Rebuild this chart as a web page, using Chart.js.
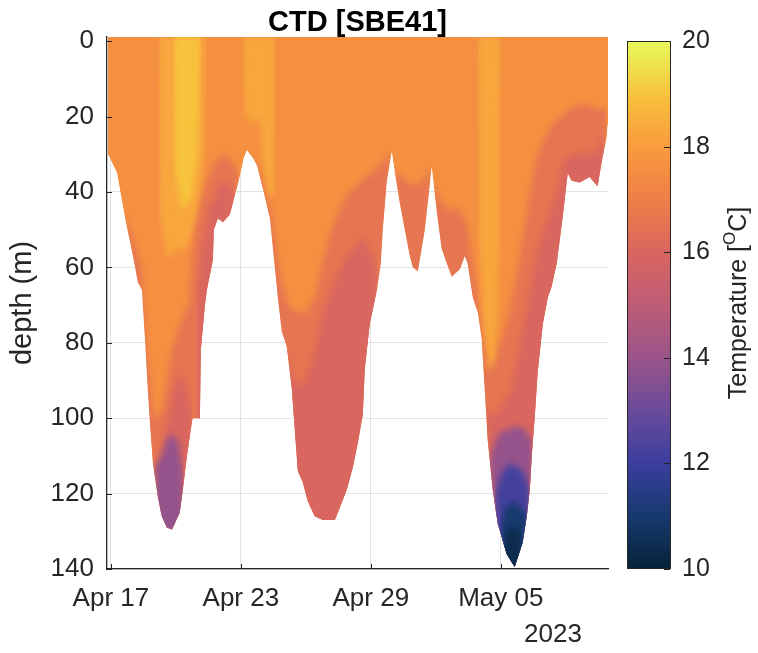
<!DOCTYPE html>
<html>
<head>
<meta charset="utf-8">
<title>CTD [SBE41]</title>
<script src="https://cdn.jsdelivr.net/npm/chart.js"></script>
<style>
  html, body { margin: 0; padding: 0; background: #fff; }
  canvas { display: block; }
</style>
</head>
<body>
<canvas id="ctd" width="758" height="653"></canvas>
<script>
// glider CTD section, time = days after 2023-04-17 00:00, depth in m

const tickDays = [0, 6, 12, 18];
const tickLabels = ['Apr 17', 'Apr 23', 'Apr 29', 'May 05'];
const depthTicks = [0, 20, 40, 60, 80, 100, 120, 140];
const tempTicks = [10, 12, 14, 16, 18, 20];

// deepest sample of each dive (lower edge of the section)
const bottomDay = [-0.14, -0.05, 0.28, 0.65, 1.02, 1.25, 1.43, 1.57, 1.71, 1.80,
  1.94, 2.17, 2.35, 2.58, 2.82, 3.18, 3.32, 3.51, 3.74, 3.78,
  4.11, 4.15, 4.34, 4.43, 4.71, 4.75, 4.94, 5.17, 5.49, 5.72,
  5.95, 6.14, 6.28, 6.55, 6.74, 7.01, 7.34, 7.48, 7.71, 7.89,
  8.12, 8.35, 8.49, 8.63, 8.86, 9.09, 9.41, 9.78, 10.34, 10.48,
  10.89, 11.17, 11.40, 11.63, 11.72, 11.95, 12.28, 12.46, 12.55, 12.74,
  12.97, 13.11, 13.34, 13.57, 13.80, 13.94, 14.17, 14.26, 14.49, 14.67,
  14.81, 15.04, 15.27, 15.51, 15.74, 16.11, 16.34, 16.47, 16.71, 16.94,
  17.12, 17.26, 17.40, 17.63, 17.86, 18.27, 18.64, 19.01, 19.20, 19.34,
  19.43, 19.57, 19.70, 19.94, 20.17, 20.35, 20.58, 20.86, 21.09, 21.27,
  21.64, 22.10, 22.47, 22.66, 22.89, 22.98];
const bottomDepth = [30, 31, 35, 47, 57, 64, 66, 79, 93, 101,
  112, 121, 126, 129, 129.5, 125, 119, 110, 101, 100,
  100, 82, 70, 66, 58, 50, 47, 48, 46, 41,
  36, 31, 29, 31, 33, 39, 47, 55, 68, 77,
  81, 92, 103, 114, 117, 122, 126, 127, 127, 125,
  119, 113, 106.5, 99, 87, 75, 66, 59, 50, 37,
  29.5, 35, 43, 50, 57, 60, 61, 58, 50, 41,
  33.5, 45, 55, 59, 62.5, 60.5, 57, 59, 68, 72,
  79, 92.5, 106, 119, 128, 136, 139.5, 133, 126, 119,
  110, 99.5, 88, 75, 68, 65, 59, 46.5, 35, 37,
  37.5, 36, 38.5, 32, 25.5, 20];

// isotherm depths (null splits separate pieces)
const iso17Day = [0.65, 1.0, 1.4, 1.6, 2.0, 2.4, 2.8, 3.2, 3.6, 3.9, 4.2, 4.5, 4.8, 5.2, 5.6, 5.9,
  6.2, 6.6, 7.0, 7.4, 7.8, 8.2, 8.6, 9.0, 9.4, 9.8, 10.2, 10.6, 11.0, 11.4, 11.8, 12.2, 12.6, 12.9,
  13.0, 13.1, 13.4, 13.8, 14.2, 14.5, 14.75,
  14.8, 14.9, 15.2, 15.6, 16.0, 16.4, 16.8, 17.2, 17.6, 18.0, 18.4, 18.8, 19.2, 19.6, 20.0,
  20.4, 20.8, 21.2, 21.6, 22.0, 22.4, 22.9];
const iso17Depth = [46, 52, 60, 80, 100, 98, 82, 75, 70, 45, 40, 36, 32, 30, 32, 35,
  null, 31, 37, 46, 62, 70, 72, 72, 68, 58, 50, 44, 40, 38, 36, 34, 32, 29,
  null, 34, 36, 38, 38, 36, 33,
  null, 37, 42, 45, 44, 48, 62, 78, 85, 80, 72, 60, 45, 32, 26,
  22, 20, 18, 17, 17, 18, 18];

const iso163Day = [2.2, 2.5, 2.9, 3.3, 3.75, 3.85, 3.95, 4.2, 4.5, 4.75, 5.1, 5.4, 5.7,
  6.9, 8.05, 8.3, 8.8, 9.3, 9.8, 10.3, 10.8, 11.2, 11.6, 12.0, 12.3,
  15.0, 17.35, 17.7, 18.1, 18.5, 18.9, 19.3, 19.7, 20.1, 20.5, 20.9, 21.3, 21.8, 22.3, 22.8];
const iso163Depth = [118, 105, 92, 88, 98, null, 70, 55, 45, 42, 37, 38, 40,
  null, 79, 88, 92, 85, 72, 64, 58, 55, 52, 56, 60,
  null, 97, 100, 96, 92, 80, 68, 55, 48, 42, 32, 30, 30, 30, 25];

const iso15Day = [2.0, 2.3, 2.7, 3.1, 3.35, 10.0, 17.5, 17.9, 18.3, 18.7, 19.1, 19.45];
const iso15Depth = [113, 110, 104, 106, 115, null, 110, 104, 103, 102, 103, 106];

const iso13Day = [17.75, 18.0, 18.4, 18.8, 19.1, 19.3];
const iso13Depth = [120, 115, 112, 113, 115, 119];

const iso115Day = [18.0, 18.2, 18.5, 18.8, 19.05, 19.2];
const iso115Depth = [128, 124, 122, 123, 125, 124];

const iso108Day = [18.15, 18.4, 18.7, 18.95];
const iso108Depth = [132, 129, 129, 131];

// warm streaks reaching down from the surface
const warm18Day = [2.2, 2.25, 2.6, 3.0, 3.5, 4.0, 4.3, 4.4,
  5.0, 6.1, 6.15, 6.5, 6.9, 7.05, 7.3, 7.55, 7.6,
  12.0, 16.95, 17.0, 17.2, 17.45, 17.7, 17.9, 18.0];
const warm18Depth = [0, 45, 58, 55, 55, 45, 30, 0,
  null, 0, 18, 22, 20, 34, 42, 40, 0,
  null, 0, 50, 75, 88, 85, 60, 0];

const warm187Day = [2.9, 2.95, 3.3, 3.7, 4.0, 4.15];
const warm187Depth = [0, 35, 45, 42, 30, 0];

// temperature (degC) shown in each band: base, <17, <16.3, <15, <13, <11.5, <10.8, >18, >18.7
const bandTemp = [17.6, 16.6, 16.0, 13.9, 12.2, 11.0, 10.4, 18.3, 19.0];

// thermal colormap, 10..20 degC
const thermal = ['#062338', '#173a6e', '#3b3e9e', '#6a4b9a', '#9a5489', '#be5c76',
  '#d9665f', '#ef7f47', '#f99b3d', '#f7c33c', '#e8f95a'];

function hexRgb(h) {
  return [1, 3, 5].map(i => parseInt(h.slice(i, i + 2), 16));
}

function cmap(t) {
  const n = thermal.length - 1;
  const f = Math.min(Math.max((t - 10) / 10, 0), 1) * n;
  const i = Math.min(Math.floor(f), n - 1);
  const a = hexRgb(thermal[i]), b = hexRgb(thermal[i + 1]), k = f - i;
  const c = a.map((v, j) => Math.round(v + (b[j] - v) * k));
  return `rgb(${c[0]},${c[1]},${c[2]})`;
}

function band(days, depths, temp, fill, order) {
  return {
    data: days.map((d, i) => ({ x: d, y: depths[i] })),
    fill: fill,
    order: order,
    backgroundColor: cmap(temp),
    borderColor: 'rgba(0,0,0,0)',
    borderWidth: 0,
    pointRadius: 0,
    tension: 0,
  };
}

const FONT = '"Liberation Sans", Arial, Helvetica, sans-serif';
const TXT = '#262626';

// keep every band inside the section outline and soften the band edges
const section = {
    id: 'section',
    beforeDatasetsDraw(chart) {
        const ctx = chart.ctx;
        const pts = chart.getDatasetMeta(0).data;
        const top = chart.chartArea.top;
        ctx.save();
        ctx.beginPath();
        ctx.moveTo(pts[0].x, top);
        pts.forEach(p => ctx.lineTo(p.x, p.y));
        ctx.lineTo(pts[pts.length - 1].x, top);
        ctx.closePath();
        ctx.clip();
    },
    afterDatasetDraw(chart, args) {
        if (args.index === 0) chart.ctx.filter = 'blur(3px)';
    },
    afterDatasetsDraw(chart) {
        chart.ctx.filter = 'none';
        chart.ctx.restore();
    }
};

// colorbar, inward tick marks and the extra labels
const extras = {
    id: 'extras',
    afterDraw(chart) {
        const { ctx, chartArea } = chart;
        const xs = chart.scales.x, ys = chart.scales.y, ts = chart.scales.t;
        ctx.save();

        ctx.strokeStyle = TXT;
        ctx.lineWidth = 1;
        ctx.beginPath();
        depthTicks.forEach(v => {
            const py = Math.round(ys.getPixelForValue(v)) + 0.5;
            ctx.moveTo(chartArea.left, py);
            ctx.lineTo(chartArea.left + 5, py);
        });
        tickDays.forEach(v => {
            const px = Math.round(xs.getPixelForValue(v)) + 0.5;
            ctx.moveTo(px, chartArea.bottom);
            ctx.lineTo(px, chartArea.bottom - 5);
        });
        ctx.stroke();

        // colorbar
        const left = chartArea.right + 19, w = 44;
        const top = Math.round(ts.getPixelForValue(20));
        const bot = Math.round(ts.getPixelForValue(10));
        const grad = ctx.createLinearGradient(0, bot, 0, top);
        thermal.forEach((c, i) => grad.addColorStop(i / (thermal.length - 1), c));
        ctx.fillStyle = grad;
        ctx.fillRect(left, top, w, bot - top);
        ctx.strokeStyle = TXT;
        ctx.lineWidth = 1;
        ctx.strokeRect(left + 0.5, top + 0.5, w - 1, bot - top - 1);
        ctx.beginPath();
        tempTicks.forEach(v => {
            const py = Math.round(ts.getPixelForValue(v)) + 0.5;
            ctx.moveTo(left + w - 1, py);
            ctx.lineTo(left + w - 7, py);
        });
        ctx.stroke();

        // colorbar label with superscript
        ctx.fillStyle = TXT;
        ctx.translate(739, (chartArea.top + chartArea.bottom) / 2);
        ctx.rotate(-Math.PI / 2);
        ctx.textBaseline = 'middle';
        ctx.textAlign = 'left';
        const big = '25px ' + FONT, small = '17px ' + FONT;
        ctx.font = big;
        const w1 = ctx.measureText('Temperature [').width;
        const w3 = ctx.measureText('C]').width;
        ctx.font = small;
        const w2 = ctx.measureText('O').width;
        let x0 = -(w1 + w2 + w3) / 2;
        ctx.font = big;
        ctx.fillText('Temperature [', x0, 0);
        ctx.font = small;
        ctx.fillText('O', x0 + w1, -9);
        ctx.font = big;
        ctx.fillText('C]', x0 + w1 + w2, 0);
        ctx.setTransform(1, 0, 0, 1, 0, 0);

        // year under the time axis
        ctx.font = '26px ' + FONT;
        ctx.textAlign = 'center';
        ctx.fillText('2023', chartArea.right - 55, 635);
        ctx.restore();
    }
};

const datasets = [
  band(bottomDay, bottomDepth, bandTemp[0], 'end', 9),
  band(iso17Day, iso17Depth, bandTemp[1], 'start', 8),
  band(iso163Day, iso163Depth, bandTemp[2], 'start', 7),
  band(iso15Day, iso15Depth, bandTemp[3], 'start', 6),
  band(iso13Day, iso13Depth, bandTemp[4], 'start', 5),
  band(iso115Day, iso115Depth, bandTemp[5], 'start', 4),
  band(iso108Day, iso108Depth, bandTemp[6], 'start', 3),
  band(warm18Day, warm18Depth, bandTemp[7], 'end', 2),
  band(warm187Day, warm187Depth, bandTemp[8], 'end', 1),
];

new Chart(document.getElementById('ctd'), {
    type: 'line',
    data: { datasets: datasets },
    options: {
        responsive: false,
        animation: false,
        events: [],
        spanGaps: false,
        layout: { padding: 0 },
        plugins: {
            legend: { display: false },
            tooltip: { enabled: false },
            title: {
                display: true,
                text: 'CTD [SBE41]',
                color: '#000',
                fullSize: false,
                font: { family: FONT, size: 29, weight: 'bold', lineHeight: 1 },
                padding: { top: 8, bottom: 0 },
            },
        },
        scales: {
            x: {
                type: 'linear',
                min: -0.18,
                max: 22.95,
                afterBuildTicks: s => { s.ticks = tickDays.map(v => ({ value: v })); },
                afterFit: s => { s.height = 84; },
                ticks: {
                    callback: (v, i) => tickLabels[i],
                    color: TXT,
                    font: { family: FONT, size: 26 },
                    padding: 14,
                    maxRotation: 0,
                    autoSkip: false,
                },
                grid: { color: '#e2e2e2', drawTicks: false },
                border: { color: TXT, width: 1.3 },
            },
            y: {
                type: 'linear',
                reverse: true,
                min: -1.1,
                max: 140,
                afterBuildTicks: s => { s.ticks = depthTicks.map(v => ({ value: v })); },
                afterFit: s => { s.width = 107; s.paddingTop = 0; s.paddingBottom = 0; },
                ticks: {
                    color: TXT,
                    font: { family: FONT, size: 26 },
                    padding: 13,
                },
                grid: { color: '#e2e2e2', drawTicks: false },
                border: { color: TXT, width: 1.3 },
                title: {
                    display: true,
                    text: 'depth (m)',
                    color: TXT,
                    font: { family: FONT, size: 29 },
                    padding: { top: 6, bottom: 0 },
                },
            },
            t: {
                axis: 'y',
                type: 'linear',
                position: 'right',
                min: 10,
                max: 20.076,
                afterBuildTicks: s => { s.ticks = tempTicks.map(v => ({ value: v })); },
                afterFit: s => { s.width = 150; s.paddingTop = 0; s.paddingBottom = 0; },
                ticks: {
                    color: TXT,
                    font: { family: FONT, size: 25 },
                    padding: 74,
                },
                grid: { display: false, drawTicks: false },
                border: { display: false },
            },
        },
    },
    plugins: [section, extras],
});
</script>
</body>
</html>
